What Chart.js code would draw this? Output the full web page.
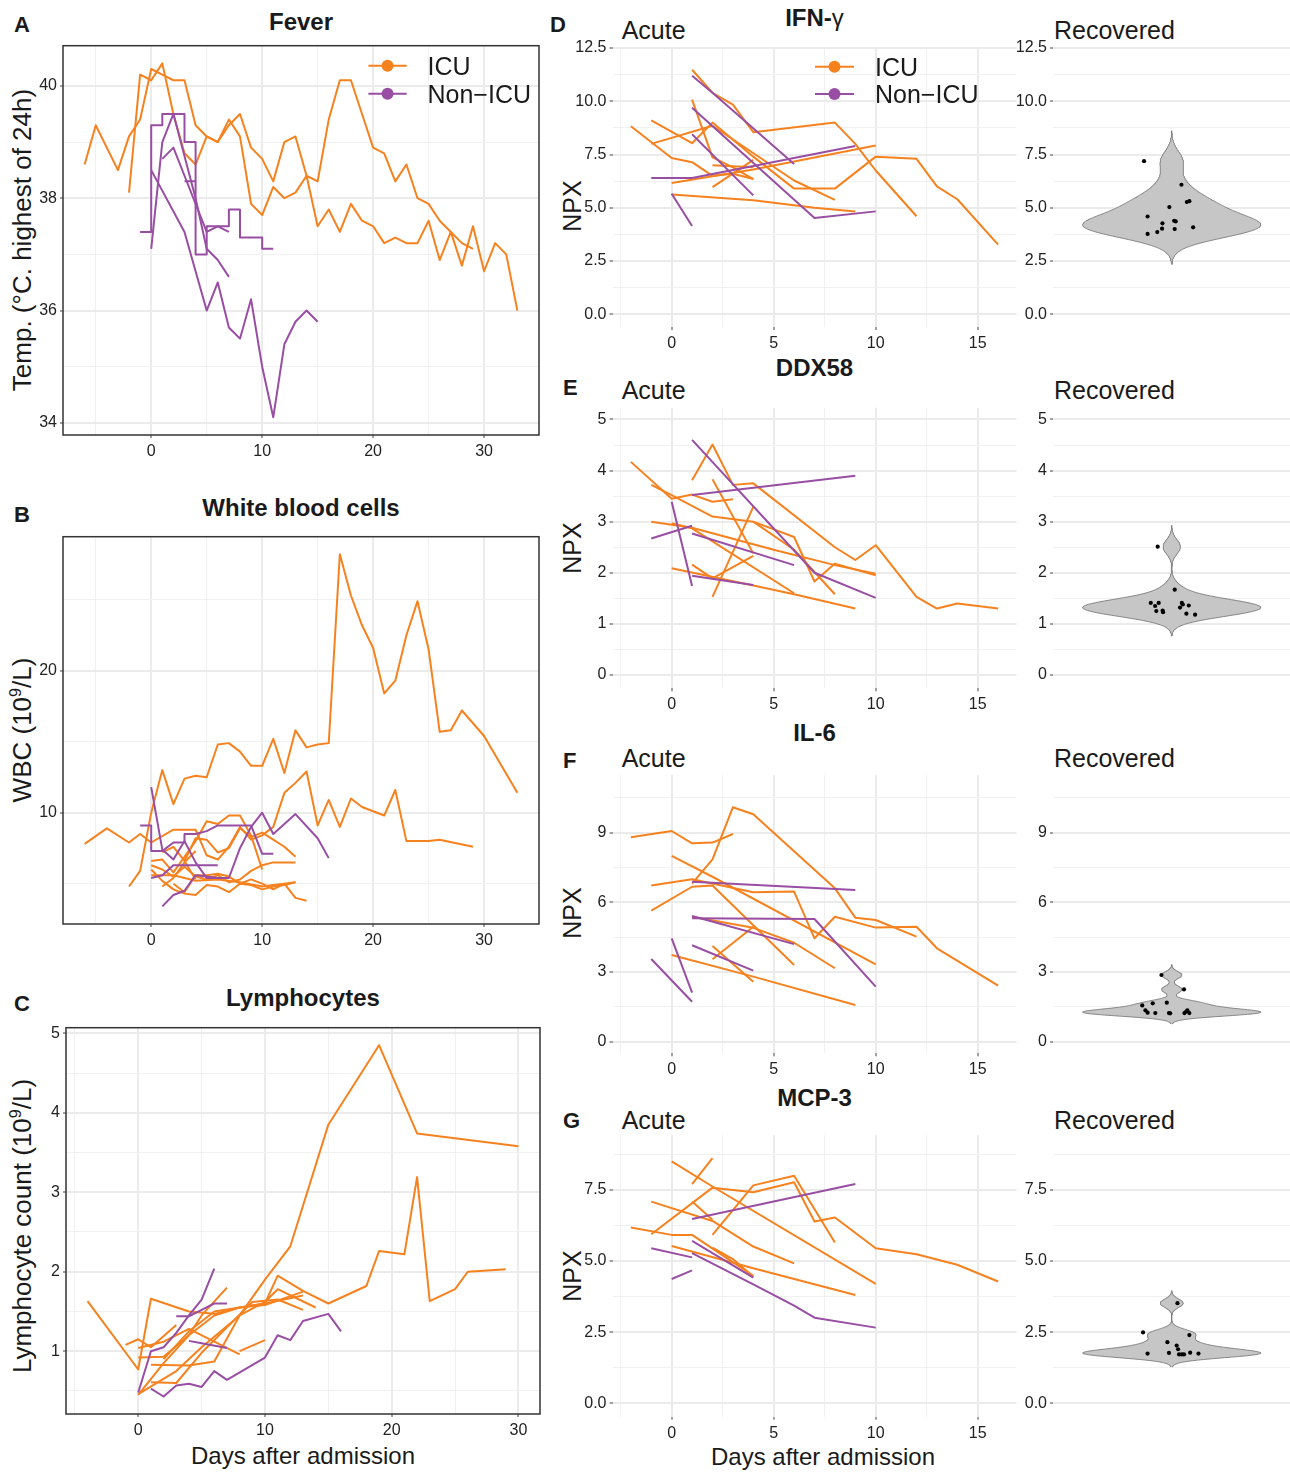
<!DOCTYPE html>
<html lang="en">
<head>
<meta charset="utf-8">
<title>ICU vs non-ICU: clinical course and plasma proteins</title>
<script src="https://cdn.jsdelivr.net/npm/chart.js@4.4.1/dist/chart.umd.min.js"></script>
<style>
  html, body { margin:0; padding:0; background:#ffffff; }
  body { position:relative; width:1290px; height:1472px; overflow:hidden;
         font-family:"Liberation Sans", Arial, Helvetica, sans-serif; color:#1a1a1a; }
  .t { position:absolute; line-height:1; white-space:nowrap; }
  .lt { font-weight:bold; font-size:22px; }
  .ti { font-weight:bold; font-size:24px; transform:translateX(-50%); }
  .sub { font-size:25px; }
  .ax { font-size:24px; transform:translateX(-50%); }
  .yl { transform:translate(-50%,-50%) rotate(-90deg); }
  .s { font-size:0.62em; position:relative; top:-0.62em; }
  canvas { position:absolute; }
</style>
</head>
<body>
<!-- left column texts -->
<div class="t lt" style="left:14px;top:14.4px">A</div>
<div class="t ti" style="left:301px;top:9.7px">Fever</div>
<div class="t yl" style="left:22px;top:240px;font-size:26px">Temp. (°C. highest of 24h)</div>

<div class="t lt" style="left:14px;top:504.4px">B</div>
<div class="t ti" style="left:301px;top:495.7px">White blood cells</div>
<div class="t yl" style="left:22px;top:730px;font-size:26px">WBC (10<span class="s">9</span>/L)</div>

<div class="t lt" style="left:14px;top:993.4px">C</div>
<div class="t ti" style="left:303px;top:985.7px">Lymphocytes</div>
<div class="t yl" style="left:22px;top:1226px;font-size:26px">Lymphocyte count (10<span class="s">9</span>/L)</div>
<div class="t ax" style="left:303px;top:1443.7px">Days after admission</div>

<!-- right column texts -->
<div class="t lt" style="left:550px;top:14.4px">D</div>
<div class="t ti" style="left:814.5px;top:6.4px">IFN-<span style="font-weight:normal">γ</span></div>
<div class="t sub" style="left:621.7px;top:18.3px">Acute</div>
<div class="t sub" style="left:1054px;top:18.3px">Recovered</div>
<div class="t yl" style="left:572px;top:206px;font-size:25px">NPX</div>

<div class="t lt" style="left:563px;top:377.1px">E</div>
<div class="t ti" style="left:814.5px;top:356.4px">DDX58</div>
<div class="t sub" style="left:621.7px;top:378.4px">Acute</div>
<div class="t sub" style="left:1054px;top:378.4px">Recovered</div>
<div class="t yl" style="left:572px;top:547.5px;font-size:25px">NPX</div>

<div class="t lt" style="left:563px;top:749.7px">F</div>
<div class="t ti" style="left:814.5px;top:721.4px">IL-6</div>
<div class="t sub" style="left:621.7px;top:745.8px">Acute</div>
<div class="t sub" style="left:1054px;top:745.8px">Recovered</div>
<div class="t yl" style="left:572px;top:913px;font-size:25px">NPX</div>

<div class="t lt" style="left:563px;top:1109.7px">G</div>
<div class="t ti" style="left:814.5px;top:1086.4px">MCP-3</div>
<div class="t sub" style="left:621.7px;top:1107.8px">Acute</div>
<div class="t sub" style="left:1054px;top:1107.8px">Recovered</div>
<div class="t yl" style="left:572px;top:1276px;font-size:25px">NPX</div>
<div class="t ax" style="left:823px;top:1444.7px">Days after admission</div>

<script>
// ======================= DATA =======================
const groupNames = ['ICU', 'Non\u2212ICU'];

const dayTicksLeft  = [0, 10, 20, 30];
const dayTicksAcute = [0, 5, 10, 15];
const feverTicks = [34, 36, 38, 40];
const wbcTicks   = [10, 20];
const lymphTicks = [1, 2, 3, 4, 5];
const ifngTicks  = [0, 2.5, 5, 7.5, 10, 12.5];
const ddx58Ticks = [0, 1, 2, 3, 4, 5];
const il6Ticks   = [0, 3, 6, 9];
const mcp3Ticks  = [0, 2.5, 5, 7.5];

// each patient: [day, value] pairs
const feverICU = [
  [[-6,38.6],[-5,39.3],[-3,38.5],[-2,39.1],[-1,39.4],[0,40.3],[1,40.2],[2,40.1],[3,40.1],[4,39.3],[5,39.1],[6,39.0],[7,39.4],[8,39.1],[9,37.9],[10,37.7],[11,38.2],[12,38.0],[13,38.1],[14,38.4],[15,37.5],[16,37.8],[17,37.4],[18,37.9],[19,37.6],[20,37.5],[21,37.2],[22,37.3],[23,37.2],[24,37.2],[25,37.6],[26,36.9],[27,37.4],[28,36.8],[29,37.5],[30,36.7],[31,37.2],[32,37.0],[33,36.0]],
  [[-2,38.1],[-1,40.2],[0,40.1],[1,40.4],[2,39.5],[3,38.8],[4,38.6],[5,39.1],[6,39.0],[7,39.3],[8,39.5],[9,38.9],[10,38.7],[11,38.3],[12,39.0],[13,39.1],[14,38.4],[15,38.3],[16,39.4],[17,40.1],[18,40.1],[19,39.5],[20,38.9],[21,38.8],[22,38.3],[23,38.6],[24,38.0],[25,37.9],[26,37.6],[27,37.4],[28,37.2],[29,37.1]]
];
const feverNonICU = [
  [[-1,37.4],[0,37.4],[0,39.3],[1,39.3],[1,39.5],[3,39.5],[3,39.0],[4,39.0],[4,37.0],[5,37.0],[5,37.5],[7,37.5],[7,37.8],[8,37.8],[8,37.3],[10,37.3],[10,37.1],[11,37.1]],
  [[3,38.3],[4,38.3]],
  [[0,37.1],[1,39.0],[2,39.5],[4,38.0],[5,37.1],[6,36.9],[7,36.6]],
  [[1,38.7],[2,38.9],[3,38.4],[4,37.9],[5,37.4],[6,37.5],[7,37.4]],
  [[0,38.5],[3,37.4],[5,36.0],[6,36.5],[7,35.7],[8,35.5],[9,36.2],[10,35.0],[11,34.1],[12,35.4],[13,35.8],[14,36.0],[15,35.8]]
];

const wbcICU = [
  [[-2,4.8],[-1,5.9],[0,10.0],[1,13.0],[2,10.6],[3,12.4],[4,12.6],[5,12.5],[6,14.8],[7,14.9],[8,14.3],[9,13.3],[10,13.3],[11,15.2],[12,12.8],[13,15.8],[14,14.6],[15,14.8],[16,14.9],[17,28.2],[18,25.3],[19,23.2],[20,21.6],[21,18.4],[22,19.3],[23,22.5],[24,24.9],[25,21.5],[26,15.7],[27,15.8],[28,17.2],[30,15.4],[33,11.4]],
  [[-6,7.8],[-4,8.9],[-2,7.9],[-1,8.5],[0,7.9],[2,8.8],[4,8.8],[5,7.0],[6,6.7],[7,7.6],[8,9.0],[9,8.1],[10,8.4],[11,9.0],[12,11.4],[13,12.1],[14,12.9],[15,9.1],[16,10.9],[17,9.0],[18,11.0],[19,10.4],[20,10.1],[21,9.8],[22,11.6],[23,8.0],[25,8.0],[26,8.1],[29,7.6]],
  [[0,6.6],[1,6.7],[2,5.8],[3,6.9],[4,8.0],[5,9.4],[6,9.2],[7,9.8],[8,9.8],[9,8.4],[10,6.0]],
  [[0,5.6],[2,5.6],[4,5.2],[6,5.3],[8,5.1],[10,4.8],[11,4.9],[12,5.0],[13,5.1]],
  [[0,6.0],[1,5.2],[2,4.6],[3,4.3],[4,4.2],[5,4.9],[6,4.8],[7,4.4],[8,5.0],[9,5.3],[10,5.0],[11,4.6],[12,5.0],[13,4.0],[14,3.8]],
  [[1,7.2],[2,7.6],[3,6.6],[4,5.3]],
  [[1,4.8],[2,5.4],[3,6.5],[4,7.3]],
  [[0,6.3],[1,6.0],[2,5.5],[3,6.2],[4,5.5],[5,5.3],[6,5.6],[7,5.1],[8,5.3],[9,5.9],[10,6.3],[11,6.5],[12,6.5],[13,6.5]],
  [[3,6.6],[4,8.2],[5,8.1],[6,7.2],[7,7.5],[8,8.9],[9,8.3],[10,8.6],[11,8.1],[12,7.6],[13,6.9]],
  [[2,5.0],[3,4.4],[4,5.6],[5,5.6],[6,5.7],[7,5.5],[8,5.0],[9,4.9],[10,4.6],[11,4.8],[12,4.9],[13,5.1]]
];
const wbcNonICU = [
  [[0,11.8],[1,7.4],[2,6.7],[3,8.0],[4,6.5],[5,5.4],[6,5.4],[7,5.4],[8,7.5],[9,9.0],[10,10.0],[11,8.5],[13,9.9],[15,8.2],[16,6.8]],
  [[-1,9.1],[0,9.1],[0,7.3],[1,7.3],[2,7.9],[3,7.9],[3,8.5],[4,8.5],[5,8.7],[6,9.1],[9,9.1],[10,7.1],[11,7.1]],
  [[1,3.4],[2,4.2],[3,4.5],[4,5.6],[5,5.5],[6,5.4]],
  [[0,5.4],[1,5.6],[2,6.3],[3,6.3],[6,6.3]]
];

const lymphICU = [
  [[-4,1.63],[0,0.77],[1,1.66],[4,1.5],[6,1.47],[8,1.55],[10,1.6],[11,1.95],[13,1.76],[15,1.6],[18,1.82],[19,2.26],[21,2.22],[22,3.19],[23,1.63],[25,1.78],[26,2.0],[29,2.03]],
  [[0,0.46],[3,0.75],[5,1.05],[8,1.45],[10,1.9],[12,2.32],[15,3.85],[19,4.85],[22,3.74],[30,3.58]],
  [[-1,1.08],[0,1.15],[1,1.05],[3,1.33]],
  [[0,1.04],[2,1.12],[4,1.28],[6,1.12],[8,0.96]],
  [[0,0.92],[2,0.93],[4,1.2],[6,1.45],[8,1.55],[10,1.6],[13,1.7]],
  [[1,0.83],[4,0.82],[6,0.87],[8,1.45],[10,1.62],[11,1.78],[14,1.55]],
  [[1,0.61],[3,0.6],[5,0.98],[7,1.3],[9,1.62],[11,1.65],[13,1.52]],
  [[0,0.45],[2,0.85],[4,1.2],[5,1.45],[7,1.8]],
  [[8,1.0],[10,1.14]],
  [[2,0.9],[4,1.25],[6,1.5],[8,1.55],[10,1.58],[13,1.75]]
];
const lymphNonICU = [
  [[0,0.48],[1,1.0],[2,1.05],[3,1.23],[4,1.45],[5,1.65],[6,2.04]],
  [[3,1.44],[4,1.44],[5,1.52],[6,1.6],[7,1.6]],
  [[1,0.53],[2,0.43],[3,0.57],[4,0.59],[5,0.55],[6,0.75],[7,0.64],[10,0.92],[11,1.2],[12,1.14],[13,1.38],[15,1.47],[16,1.25]],
  [[4,1.13],[5,1.1],[7,1.04]]
];

const ifngICU = [
  [[-2,8.83],[0,7.34],[1,7.14],[2,6.5],[3,6.6],[4,6.35]],
  [[-1,8.0],[2,8.85],[6,6.28],[8,5.37]],
  [[-1,9.1],[1,8.03],[2,9.0],[4,7.4],[6,5.9],[8,5.9],[10,7.4],[12,7.3],[13,6.0],[14,5.4],[16,3.27]],
  [[1,11.48],[2,10.4],[3,9.84],[4,8.55],[8,9.0],[9,8.0],[10,6.75],[12,4.6]],
  [[1,10.08],[2,7.37],[3,6.9],[4,6.35]],
  [[0,6.16],[4,6.8],[10,7.92]],
  [[2,7.0],[4,6.9]],
  [[2,5.97],[3,6.6],[4,7.25]],
  [[0,5.62],[4,5.35],[7,5.0],[9,4.83]]
];
const ifngNonICU = [
  [[1,11.2],[2,10.4],[6,7.06]],
  [[1,9.7],[7,4.52],[10,4.83]],
  [[-1,6.4],[1,6.4],[9,7.9]],
  [[1,8.45],[4,5.58]],
  [[0,5.66],[1,4.14]]
];

const ddx58ICU = [
  [[-2,4.17],[0,3.45],[1,3.53],[2,3.39],[3,3.44]],
  [[-1,3.72],[0,3.52],[2,3.1],[4,3.0],[6,2.7],[7,1.83],[8,2.18],[10,1.95]],
  [[1,3.81],[2,4.51],[3,3.72],[4,3.75],[8,2.5],[9,2.25],[10,2.54],[12,1.53],[13,1.3],[14,1.4],[16,1.3]],
  [[-1,3.0],[1,2.88],[5,2.45],[8,2.15],[10,1.98]],
  [[2,3.83],[4,2.38]],
  [[2,1.53],[4,3.29]],
  [[1,2.16],[2,1.89],[4,2.33]],
  [[0,2.09],[4,1.75],[6,1.58],[9,1.3]],
  [[0,2.97],[1,2.87],[6,1.6]],
  [[4,3.0],[6,2.45],[8,1.58]]
];
const ddx58NonICU = [
  [[1,4.6],[7,2.0],[10,1.51]],
  [[1,3.52],[9,3.9]],
  [[-1,2.67],[1,2.92]],
  [[0,3.39],[1,1.74]],
  [[1,2.77],[6,2.15]],
  [[1,1.94],[4,1.76]]
];

const il6ICU = [
  [[-2,8.8],[0,9.07],[1,8.54],[2,8.57],[3,8.94]],
  [[1,6.8],[2,7.85],[3,10.09],[4,9.79],[8,6.6],[9,5.34],[10,5.24],[12,4.52]],
  [[0,8.0],[2,7.1],[10,3.33]],
  [[-1,6.72],[1,6.99],[4,6.43],[6,6.46],[7,4.45],[8,5.38],[10,4.91],[12,4.95],[13,4.02],[16,2.41]],
  [[-1,5.64],[1,6.67],[2,6.72],[6,3.3]],
  [[1,5.38],[4,4.9],[6,4.26],[8,3.16]],
  [[2,3.55],[4,4.95]],
  [[2,4.12],[4,2.58]],
  [[0,3.73],[4,2.8],[9,1.58]]
];
const il6NonICU = [
  [[1,6.89],[9,6.53]],
  [[1,5.31],[7,5.28],[10,2.37]],
  [[1,5.41],[6,4.2]],
  [[1,4.15],[4,3.06]],
  [[0,4.45],[1,2.11]],
  [[-1,3.56],[1,1.72]]
];

const mcp3ICU = [
  [[0,8.5],[2,7.62],[10,4.2]],
  [[1,7.7],[2,8.62]],
  [[-1,5.94],[2,7.58],[4,7.42],[6,7.77],[7,6.39],[8,6.53],[10,5.45],[12,5.24],[14,4.87],[16,4.28]],
  [[2,5.92],[4,7.66],[6,8.0],[8,5.65]],
  [[-1,7.09],[2,6.41],[4,5.51],[6,4.92]],
  [[-2,6.18],[0,5.92],[1,5.92],[4,4.48]],
  [[0,5.53],[4,4.75],[9,3.81]],
  [[1,7.09],[2,6.45]],
  [[2,5.47],[3,5.07],[4,4.45]]
];
const mcp3NonICU = [
  [[1,6.48],[9,7.71]],
  [[-1,5.45],[1,5.13]],
  [[0,4.37],[1,4.67]],
  [[1,5.71],[4,4.42]],
  [[1,5.28],[4,4.18],[6,3.43],[7,3.01],[10,2.66]]
];

// recovered samples (value) and their horizontal jitter
const ifngRecovered  = [7.19,6.08,5.27,5.31,5.03,4.59,4.27,4.39,4.36,4.02,4.00,4.08,3.86,3.77];
const ifngJitter     = [-0.14,0.049,0.076,0.089,-0.012,-0.122,-0.047,0.012,0.02,-0.049,0.015,0.108,-0.073,-0.122];
const ddx58Recovered = [2.51,1.67,1.41,1.41,1.35,1.25,1.26,1.23,1.41,1.38,1.32,1.36,1.20,1.18];
const ddx58Jitter    = [-0.071,0.015,-0.106,-0.066,-0.084,-0.078,-0.046,-0.044,0.051,0.056,0.042,0.086,0.074,0.118];
const il6Recovered   = [2.87,2.25,1.56,1.65,1.68,1.35,1.25,1.23,1.23,1.22,1.23,1.35,1.23,1.29];
const il6Jitter      = [-0.052,0.062,-0.149,-0.096,-0.025,-0.133,-0.122,-0.083,-0.014,-0.008,0.064,0.079,0.089,0.073];
const mcp3Recovered  = [3.52,2.49,2.40,2.15,2.03,1.90,1.75,1.77,1.78,1.72,1.72,1.72,1.75];
const mcp3Jitter     = [0.029,-0.145,0.089,-0.022,0.025,0.032,-0.122,-0.014,0.093,0.037,0.051,0.062,0.135];
const violinBandwidth = [0.477, 0.14, 0.152, 0.148];

// ======================= STYLE / HELPERS =======================
const FONT = '"Liberation Sans", Arial, Helvetica, sans-serif';
Chart.defaults.font.family = FONT;
Chart.defaults.color = '#262626';
const ORANGE = '#F6821F';
const PURPLE = '#984EA3';
const GRID_MAJOR = '#EBEBEB';
const GRID_MINOR = '#F1F1F1';
const VIOLIN_FILL = '#C6C6C6';
const VIOLIN_LINE = '#6E6E6E';

function halfSteps(majors, min, max) {
  const step = majors.length > 1 ? majors[1] - majors[0] : majors[0];
  const half = step / 2, out = [];
  for (let k = Math.ceil((min - 1e-9) / half); k * half <= max + 1e-9; k++) out.push(+(k * half).toFixed(6));
  return out;
}

function linearAxis(o) {
  const step = o.majors.length > 1 ? o.majors[1] - o.majors[0] : o.majors[0];
  const on = v => Math.abs(v / step - Math.round(v / step)) < 1e-6;
  const vals = halfSteps(o.majors, o.min, o.max);
  return {
    type: 'linear', min: o.min, max: o.max, display: true,
    afterBuildTicks: s => { s.ticks = vals.map(v => ({ value: v })); },
    afterFit: s => { if (o.width != null) s.width = o.width; if (o.height != null) s.height = o.height; },
    border: { display: false },
    grid: {
      display: true, drawOnChartArea: true, drawTicks: true, tickLength: 3, tickWidth: 1,
      color: c => (c.tick && on(c.tick.value)) ? GRID_MAJOR : GRID_MINOR,
      lineWidth: c => (c.tick && on(c.tick.value)) ? 2 : 1,
      tickColor: c => (c.tick && on(c.tick.value)) ? '#444444' : 'rgba(0,0,0,0)'
    },
    ticks: {
      display: true, autoSkip: false, maxRotation: 0, minRotation: 0, padding: o.pad,
      color: '#222222', font: { family: FONT, size: 16 },
      callback: v => o.majors.some(m => Math.abs(m - v) < 1e-6) ? o.fmt(v) : ''
    }
  };
}

function lineDatasets(list, color) {
  return list.map(pts => ({
    data: pts.map(p => ({ x: p[0], y: p[1] })),
    showLine: true, borderColor: color, backgroundColor: color, borderWidth: 2,
    pointRadius: 0, pointHoverRadius: 0, fill: false, tension: 0,
    borderJoinStyle: 'round'
  }));
}

function densityProfile(values, bw, n) {
  const lo = Math.min(...values) - 3 * bw, hi = Math.max(...values) + 3 * bw;
  const out = [];
  for (let i = 0; i < n; i++) {
    const y = lo + (hi - lo) * i / (n - 1);
    let d = 0;
    for (const v of values) { const z = (y - v) / bw; d += Math.exp(-0.5 * z * z); }
    out.push({ y, d });
  }
  const peak = Math.max(...out.map(o => o.d));
  return out.map(o => ({ y: o.y, w: 0.45 * o.d / peak }));
}

const framePlugin = {
  id: 'frame',
  afterDatasetsDraw(chart, args, o) {
    if (!o || !o.on) return;
    const { ctx, chartArea: a } = chart;
    ctx.save(); ctx.strokeStyle = '#333333'; ctx.lineWidth = 1.5;
    ctx.strokeRect(a.left, a.top, a.right - a.left, a.bottom - a.top);
    ctx.restore();
  }
};

const legendPlugin = {
  id: 'groupLegend',
  afterDraw(chart, args, o) {
    if (!o || !o.items) return;
    const { ctx, chartArea: a } = chart;
    ctx.save();
    ctx.font = '25px ' + FONT;
    ctx.textBaseline = 'alphabetic';
    o.items.forEach((it, i) => {
      const y = a.top + o.keyY[i];
      ctx.strokeStyle = it.color; ctx.lineWidth = 2;
      ctx.beginPath(); ctx.moveTo(a.left + o.keyX0, y); ctx.lineTo(a.left + o.keyX1, y); ctx.stroke();
      ctx.fillStyle = it.color;
      ctx.beginPath(); ctx.arc(a.left + (o.keyX0 + o.keyX1) / 2, y, o.r, 0, Math.PI * 2); ctx.fill();
      ctx.fillStyle = '#1a1a1a';
      ctx.fillText(it.label, a.left + o.textX, a.top + o.textY[i]);
    });
    ctx.restore();
  }
};

function mount(area, xShown) {
  const yW = 50, padTop = 14, padRight = 18, xH = 30;
  const cl = Math.floor(area.L - yW), ct = Math.floor(area.T - padTop);
  const w = Math.ceil(area.R + padRight) - cl;
  const h = Math.ceil(area.B + xH + 6) - ct;
  const cv = document.createElement('canvas');
  cv.width = w; cv.height = h;
  cv.style.left = cl + 'px'; cv.style.top = ct + 'px';
  cv.style.width = w + 'px'; cv.style.height = h + 'px';
  document.body.appendChild(cv);
  const padding = {
    left: area.L - yW - cl, top: area.T - ct,
    right: w - (area.R - cl), bottom: h - (area.B - ct) - (xShown ? xH : 0)
  };
  return { cv, padding, yW, xH };
}

const baseOptions = { responsive: false, animation: false, devicePixelRatio: 1, events: [] };

function linePanel(area, xr, yr, xMajors, yMajors, yFmt, icu, nonIcu, extra) {
  const m = mount(area, true);
  return new Chart(m.cv, {
    type: 'scatter',
    data: { datasets: [...lineDatasets(nonIcu, PURPLE), ...lineDatasets(icu, ORANGE)] },
    options: Object.assign({}, baseOptions, {
      layout: { padding: m.padding },
      scales: {
        x: linearAxis({ min: xr[0], max: xr[1], majors: xMajors, fmt: v => String(v), height: m.xH, pad: 4 }),
        y: linearAxis({ min: yr[0], max: yr[1], majors: yMajors, fmt: yFmt, width: m.yW, pad: 3 })
      },
      plugins: {
        legend: { display: false }, tooltip: { enabled: false },
        frame: { on: !!extra.frame },
        groupLegend: extra.legend || {}
      }
    }),
    plugins: [framePlugin, legendPlugin]
  });
}

function violinPanel(area, yr, yMajors, yFmt, values, jitter, bw) {
  const m = mount(area, false);
  const prof = densityProfile(values, bw, 256);
  return new Chart(m.cv, {
    type: 'line',
    data: { datasets: [
      { data: prof.map(p => ({ x: p.w, y: p.y })), fill: '+1', backgroundColor: VIOLIN_FILL,
        borderColor: VIOLIN_LINE, borderWidth: 0.8, pointRadius: 0, tension: 0, order: 2 },
      { data: prof.map(p => ({ x: -p.w, y: p.y })), fill: false,
        borderColor: VIOLIN_LINE, borderWidth: 0.8, pointRadius: 0, tension: 0, order: 1 },
      { data: values.map((v, i) => ({ x: jitter[i], y: v })), showLine: false, pointRadius: 2.1,
        pointBorderWidth: 0, pointBackgroundColor: '#000', backgroundColor: '#000', borderColor: '#000', order: 0 }
    ]},
    options: Object.assign({}, baseOptions, {
      indexAxis: 'y',
      layout: { padding: m.padding },
      scales: {
        x: { type: 'linear', min: -0.6, max: 0.6, display: false },
        y: linearAxis({ min: yr[0], max: yr[1], majors: yMajors, fmt: yFmt, width: m.yW, pad: 3 })
      },
      plugins: { legend: { display: false }, tooltip: { enabled: false } }
    })
  });
}

// ======================= PANELS =======================
const oneDec = v => v.toFixed(1);
const plain = v => String(v);
const legendItems = [{ label: groupNames[0], color: ORANGE }, { label: groupNames[1], color: PURPLE }];

linePanel({ L: 63, T: 45.7, R: 539, B: 435 }, [-7.95, 34.95], [33.785, 40.715], dayTicksLeft, feverTicks, plain,
  feverICU, feverNonICU,
  { frame: true, legend: { items: legendItems, keyX0: 305.4, keyX1: 343.7, keyY: [20, 48], r: 6, textX: 364.5, textY: [29.3, 57] } });

linePanel({ L: 63, T: 536.7, R: 539, B: 924 }, [-7.95, 34.95], [2.16, 29.44], dayTicksLeft, wbcTicks, plain,
  wbcICU, wbcNonICU, { frame: true });

linePanel({ L: 66, T: 1027.7, R: 540, B: 1414 }, [-5.7, 31.7], [0.21, 5.07], dayTicksLeft, lymphTicks, plain,
  lymphICU, lymphNonICU, { frame: true });

const acuteX = [-2.9, 16.9];
const rows = [
  { T: 47,    B: 327,    y: [-0.6, 12.55], ticks: ifngTicks,  fmt: oneDec, icu: ifngICU,  non: ifngNonICU,  rec: ifngRecovered,  jit: ifngJitter,
    legend: { items: legendItems, keyX0: 202.5, keyX1: 241.5, keyY: [19.7, 47], r: 6, textX: 262.5, textY: [29, 56.3] } },
  { T: 407.7, B: 688.3,  y: [-0.26, 5.23], ticks: ddx58Ticks, fmt: plain,  icu: ddx58ICU, non: ddx58NonICU, rec: ddx58Recovered, jit: ddx58Jitter },
  { T: 775,   B: 1053.3, y: [-0.5, 11.48], ticks: il6Ticks,   fmt: plain,  icu: il6ICU,   non: il6NonICU,   rec: il6Recovered,   jit: il6Jitter },
  { T: 1135,  B: 1416.7, y: [-0.47, 9.43], ticks: mcp3Ticks,  fmt: oneDec, icu: mcp3ICU,  non: mcp3NonICU,  rec: mcp3Recovered,  jit: mcp3Jitter }
];
rows.forEach((r, i) => {
  linePanel({ L: 612.5, T: r.T, R: 1016.5, B: r.B }, acuteX, r.y, dayTicksAcute, r.ticks, r.fmt, r.icu, r.non,
    { frame: false, legend: r.legend });
  violinPanel({ L: 1053, T: r.T, R: 1290.5, B: r.B }, r.y, r.ticks, r.fmt, r.rec, r.jit, violinBandwidth[i]);
});
</script>
</body>
</html>
